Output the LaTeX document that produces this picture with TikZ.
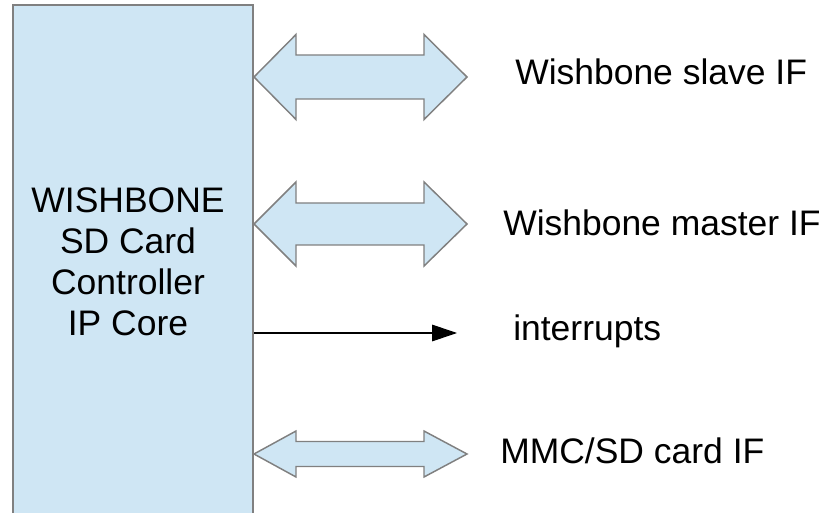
\documentclass[tikz,border=0pt]{standalone}
\usepackage{fontspec}
\setmainfont{Liberation Sans}
\usetikzlibrary{arrows.meta}
\definecolor{fillblue}{HTML}{CFE6F4}
\definecolor{edgegray}{HTML}{808080}
\tikzset{
  corebox/.style={draw=edgegray, fill=fillblue, line width=1.2pt, inner sep=0pt},
  bus/.style={draw=edgegray, fill=fillblue, line width=1.1pt, line join=miter},
  lbl/.style={inner sep=0pt, anchor=base west, font=\fontsize{26.6}{30.75}\selectfont},
  corelbl/.style={inner sep=0pt, anchor=base, align=center, font=\fontsize{26.6}{30.75}\selectfont},
  irqline/.style={draw=black, line width=0.8pt, -{Triangle[length=18.75pt,width=12.5pt]}},
  pics/dblarrow/.style n args={2}{code={
    \path[bus] (0,0) -- (42,-#1) -- (42,-#2) -- (170,-#2) -- (170,-#1) -- (213,0)
      -- (170,#1) -- (170,#2) -- (42,#2) -- (42,#1) -- cycle;
  }}
}
\begin{document}
\begin{tikzpicture}[x=0.75pt, y=-0.75pt]
\useasboundingbox (0,0) rectangle (831,513);
\node[corebox, minimum width=180pt, minimum height=386.25pt] (core) at (133,262.5) {};
\node[corelbl] (coretxt) at (128,335) {WISHBONE\\SD Card\\Controller\\IP Core};
\pic (a1) at (254,77) {dblarrow={42.5}{22}};
\pic (a2) at (254,224) {dblarrow={42}{21}};
\pic (a3) at (254,454) {dblarrow={23}{12.5}};
\coordinate (ia) at (457,333);
\draw[irqline] (core.east |- ia) -- (ia);
\node[lbl] (slave) at (515,85) {Wishbone slave IF};
\node[lbl] (master) at (503,236) {Wishbone master IF};
\node[lbl] (irq) at (513,340) {interrupts};
\node[lbl] (mmc) at (500,463) {MMC/SD card IF};
\end{tikzpicture}
\end{document}
